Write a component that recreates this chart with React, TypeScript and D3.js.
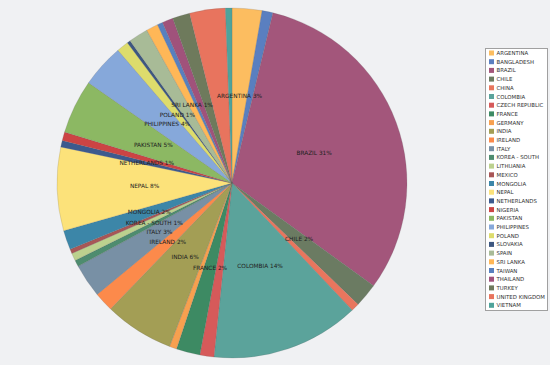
import React from "react";
import * as d3 from "d3";

const categories = [
  "ARGENTINA", "BANGLADESH", "BRAZIL", "CHILE", "CHINA", "COLOMBIA", "CZECH REPUBLIC",
  "FRANCE", "GERMANY", "INDIA", "IRELAND", "ITALY", "KOREA - SOUTH", "LITHUANIA",
  "MEXICO", "MONGOLIA", "NEPAL", "NETHERLANDS", "NIGERIA", "PAKISTAN", "PHILIPPINES",
  "POLAND", "SLOVAKIA", "SPAIN", "SRI LANKA", "TAIWAN", "THAILAND", "TURKEY",
  "UNITED KINGDOM", "VIETNAM",
];

const values = [
  2.76, 1.0, 31.25, 2.2, 0.75, 13.7, 1.3,
  2.2, 0.67, 6.4, 1.8, 3.1, 0.6, 0.7,
  0.4, 1.8, 7.7, 0.6, 0.8, 5.0, 4.0,
  1.1, 0.3, 1.8, 1.1, 0.5, 1.0, 1.6,
  3.3, 0.6,
];

const colors = [
  "#fcbd60", "#5a7fc0", "#a3567b", "#6b7b62", "#e8765e", "#5ba39b", "#d65a5a",
  "#3d8a63", "#f7a04f", "#a39e55", "#fc8a4b", "#7890a5", "#4e8c6f", "#bcd18e",
  "#a85656", "#3c86a8", "#fce27a", "#3d5a8e", "#cc4444", "#8cb863", "#86a8da",
  "#dddc6c", "#3d5780", "#a8bb97", "#ffb757", "#5880bf", "#a0527b", "#6e7a5c",
  "#e8745e", "#4ea39b",
];

const labeled = [
  "ARGENTINA", "BRAZIL", "CHILE", "COLOMBIA", "FRANCE", "INDIA", "IRELAND", "ITALY",
  "KOREA - SOUTH", "MONGOLIA", "NEPAL", "NETHERLANDS", "PAKISTAN", "PHILIPPINES",
  "POLAND", "SRI LANKA",
];

export default function App() {
  const W = 550, H = 365;
  const cx = 232, cy = 183, r = 175;
  const total = d3.sum(values);
  const data = categories.map((c, i) => ({ name: c, value: values[i], color: colors[i] }));
  const pie = d3.pie<any>().sort(null).value((d: any) => d.value);
  const arcs = pie(data);
  const arc = d3.arc<any>().innerRadius(0).outerRadius(r);
  const labelArc = d3.arc<any>().innerRadius(r * 0.5).outerRadius(r * 0.5);

  const legX = 485.5, legY = 48.5, legW = 62, legH = 262;
  const itemY0 = 53, itemStep = 8.7;

  return (
    <svg width={W} height={H} style={{ position: "fixed", left: 0, top: 0 }}
      fontFamily="'DejaVu Sans', Verdana, sans-serif">
      <rect x={0} y={0} width={W} height={H} fill="#f0f1f3" />
      <g transform={`translate(${cx},${cy})`}>
        {arcs.map((a, i) => (
          <path key={i} d={arc(a) as string} fill={a.data.color}
            stroke="rgba(90,90,90,0.35)" strokeWidth={0.5} />
        ))}
        {arcs.filter(a => labeled.includes(a.data.name)).map((a, i) => {
          const [x, y] = labelArc.centroid(a);
          const pct = Math.round((a.data.value / total) * 100);
          return (
            <text key={i} x={x} y={y} textAnchor="middle" dominantBaseline="central"
              fontSize={5.8} fill="#222">{`${a.data.name} ${pct}%`}</text>
          );
        })}
      </g>
      <rect x={legX} y={legY} width={legW} height={legH} fill="#ffffff" stroke="#a0a0a0" strokeWidth={1} />
      {data.map((d, i) => (
        <g key={i} transform={`translate(0,${itemY0 + i * itemStep})`}>
          <rect x={489} y={-2.5} width={5} height={5} fill={d.color} />
          <text x={496.5} y={0} dominantBaseline="central" fontSize={5.4} fill="#333">{d.name}</text>
        </g>
      ))}
    </svg>
  );
}
